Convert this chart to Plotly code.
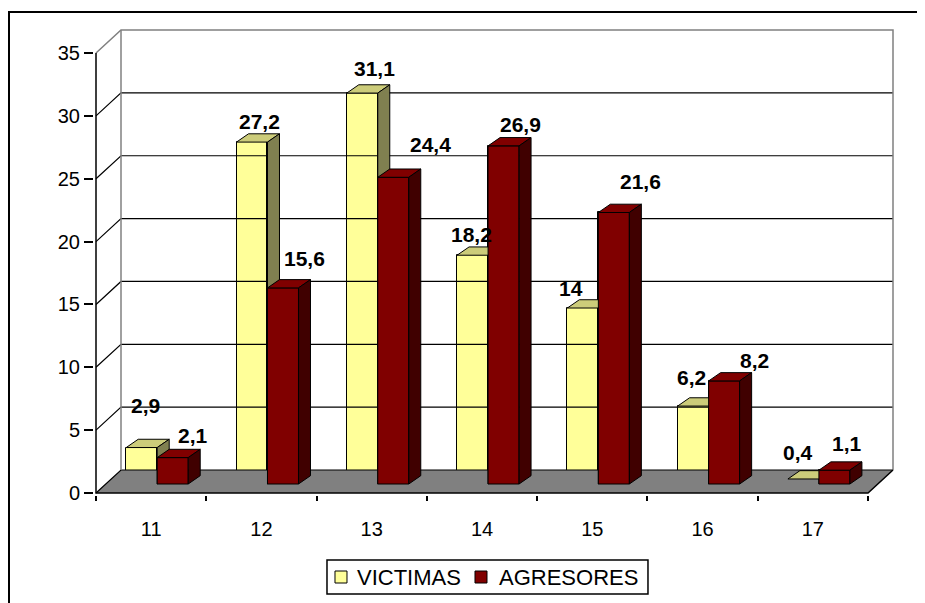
import plotly.graph_objects as go

# ---------------- data ----------------
categories = ["11", "12", "13", "14", "15", "16", "17"]
victimas = [2.9, 27.2, 31.1, 18.2, 14, 6.2, 0.4]
agresores = [2.1, 15.6, 24.4, 26.9, 21.6, 8.2, 1.1]
y_ticks = [0, 5, 10, 15, 20, 25, 30, 35]
series_names = ["VICTIMAS", "AGRESORES"]

# ---------------- style / geometry ----------------
OFF = 8               # page body margin compensation
W, H = 925 - OFF, 603 - OFF
ppx = 110.29          # px per category
ppy = 12.57           # px per value unit
x0px, y0px = 96 - OFF, 493 - OFF  # front-left-bottom corner in px
top_px = 28 - OFF
pad = 2
n = len(categories)
ymax_axis = y_ticks[-1]

floor_dx = 25 / ppx
floor_dy = 23 / ppy
bar_w = 31 / ppx
bar_dx = 12 / ppx
bar_dy = 8.3 / ppy
bar_base = 9 / ppy
pair_off = 0.055

FONT = "Arial, Liberation Sans, sans-serif"
V_FRONT, V_TOP, V_SIDE = "#FFFF99", "#CCCC7A", "#808050"
R_FRONT, R_TOP, R_SIDE = "#800000", "#800000", "#400000"
GRAY = "#808080"

# label pixel offsets relative to bar front-top centre (style only)
v_lab_dx = [3.3, 7, 12.7, -0.6, -11.4, -1.2, -5]
v_lab_dy = [-41.5, -19.3, -24, -19.7, -18.6, -27.2, -25]
r_lab_dx = [20.3, 22, 37.7, 17.4, 27, 30.8, 12.5]
r_lab_dy = [-21.5, -28.4, -31.6, -20, -29.8, -19.7, -26]

xmin = -0.5 - pad / ppx
xmax = n - 0.5 + floor_dx + pad / ppx
ymin = -pad / ppy
ymax = (y0px - top_px) / ppy
plot_left = x0px - pad
plot_right = plot_left + (xmax - xmin) * ppx
plot_bottom = y0px + pad
plot_w = plot_right - plot_left
plot_h = plot_bottom - top_px


def px_x(p):  # page px -> paper x
    return (p - OFF - plot_left) / plot_w


def px_y(p):  # page px -> paper y
    return (plot_bottom - (p - OFF)) / plot_h


fig = go.Figure()


def lines(xs, ys, color, width):
    fig.add_trace(go.Scatter(x=xs, y=ys, mode="lines", line=dict(color=color, width=width),
                             showlegend=False, hoverinfo="skip"))


def poly(xs, ys, fill):
    fig.add_trace(go.Scatter(x=xs + [xs[0]], y=ys + [ys[0]], mode="lines", fill="toself",
                             fillcolor=fill, line=dict(color="black", width=1),
                             showlegend=False, hoverinfo="skip"))


xl_front, xr_front = -0.5, n - 0.5
xl_back, xr_back = xl_front + floor_dx, xr_front + floor_dx

# floor
fig.add_trace(go.Scatter(x=[xl_front, xr_front, xr_back, xl_back, xl_front],
                         y=[0, 0, floor_dy, floor_dy, 0], mode="lines", fill="toself",
                         fillcolor=GRAY, line=dict(width=0), showlegend=False, hoverinfo="skip"))

# back gridlines and left-wall diagonals
gx, gy = [], []
for v in y_ticks[:-1]:
    gx += [xl_front, xl_back, xr_back, None]
    gy += [v, v + floor_dy, v + floor_dy, None]
lines(gx, gy, "black", 1.2)

# gray wall edges
top = ymax_axis
lines([xl_front, xl_back, xr_back, xr_back, None, xl_back, xl_back],
      [top, top + floor_dy, top + floor_dy, floor_dy, None, floor_dy, top + floor_dy], GRAY, 1.5)

# front axis line, floor front edge, floor right edge
lines([xl_front, xl_front, xr_front, xr_back], [top, 0, 0, floor_dy], "black", 1.5)

# bars (front faces)
colors_front = [V_FRONT, R_FRONT]
vx = [i + pair_off - bar_w / 2 for i in range(n)]
rx = [i + pair_off + bar_w / 2 for i in range(n)]
fig.add_trace(go.Bar(x=vx, y=victimas, base=bar_base, width=bar_w, name=series_names[0],
                     showlegend=False,
                     marker=dict(color=V_FRONT, line=dict(color="black", width=1))))
fig.add_trace(go.Bar(x=rx, y=agresores, base=bar_base, width=bar_w, name=series_names[1],
                     showlegend=False,
                     marker=dict(color=R_FRONT, line=dict(color="black", width=1))))

# 3D faces
for i in range(n):
    for xc, val, front, topc, side, redraw in [(vx[i], victimas[i], V_FRONT, V_TOP, V_SIDE, False),
                                               (rx[i], agresores[i], R_FRONT, R_TOP, R_SIDE, True)]:
        xl, xr = xc - bar_w / 2, xc + bar_w / 2
        y0, y1 = bar_base, bar_base + val
        if redraw:
            poly([xl, xr, xr, xl], [y0, y0, y1, y1], front)
        poly([xl, xr, xr + bar_dx, xl + bar_dx], [y1, y1, y1 + bar_dy, y1 + bar_dy], topc)
        poly([xr, xr + bar_dx, xr + bar_dx, xr], [y0, y0 + bar_dy, y1 + bar_dy, y1], side)


def fmt(v):
    return f"{v:g}".replace(".", ",")


annotations = []
for i in range(n):
    for xc, val, dx, dy in [(vx[i], victimas[i], v_lab_dx[i], v_lab_dy[i]),
                            (rx[i], agresores[i], r_lab_dx[i], r_lab_dy[i])]:
        annotations.append(dict(x=xc, y=bar_base + val, xref="x", yref="y", text=fmt(val),
                                showarrow=False, xshift=dx, yshift=-dy + 1,
                                xanchor="center", yanchor="middle",
                                font=dict(family=FONT, size=21, color="black", weight="bold")))

shapes = [dict(type="rect", xref="paper", yref="paper",
               x0=px_x(9), x1=px_x(945), y0=px_y(625), y1=px_y(12),
               line=dict(color="black", width=2), fillcolor="rgba(0,0,0,0)", layer="below")]

# legend (box, swatches, texts)
shapes.append(dict(type="rect", xref="paper", yref="paper",
                   x0=px_x(327), x1=px_x(648), y0=px_y(594), y1=px_y(560),
                   line=dict(color="black", width=1.5), fillcolor="white", layer="above"))
leg_sw_x = [335, 475]
leg_tx_x = [355, 497]
for k in range(2):
    shapes.append(dict(type="rect", xref="paper", yref="paper",
                       x0=px_x(leg_sw_x[k]), x1=px_x(leg_sw_x[k] + 12),
                       y0=px_y(583), y1=px_y(571),
                       line=dict(color="black", width=1), fillcolor=colors_front[k], layer="above"))
    annotations.append(dict(x=px_x(leg_tx_x[k]), y=px_y(577.5), xref="paper", yref="paper",
                            text=series_names[k], showarrow=False, xanchor="left",
                            yanchor="middle",
                            font=dict(family=FONT, size=22, color="black")))

fig.update_layout(
    width=W, height=H,
    margin=dict(l=plot_left, r=W - plot_right, t=top_px, b=H - plot_bottom, pad=0,
                autoexpand=False),
    paper_bgcolor="white", plot_bgcolor="white",
    barmode="overlay", bargap=0,
    font=dict(family=FONT, color="black"),
    showlegend=False,
    xaxis=dict(range=[xmin, xmax], tickvals=list(range(n)), ticktext=categories,
               ticks="outside", ticklen=16, tickcolor="rgba(0,0,0,0)",
               minor=dict(tickvals=[i - 0.5 for i in range(n + 1)], ticks="outside",
                          ticklen=5, tickcolor="black", tickwidth=1.5, showgrid=False),
               showgrid=False, zeroline=False, showline=False, automargin=False,
               tickfont=dict(family=FONT, size=20, color="black"), fixedrange=True),
    yaxis=dict(range=[ymin, ymax], tickvals=y_ticks, ticktext=[str(t) for t in y_ticks],
               ticks="outside", ticklen=9, tickcolor="black", tickwidth=1.5,
               showgrid=False, zeroline=False, showline=False, automargin=False,
               tickfont=dict(family=FONT, size=20, color="black"), fixedrange=True),
    annotations=annotations,
    shapes=shapes,
)

fig.write_html("out.html")
